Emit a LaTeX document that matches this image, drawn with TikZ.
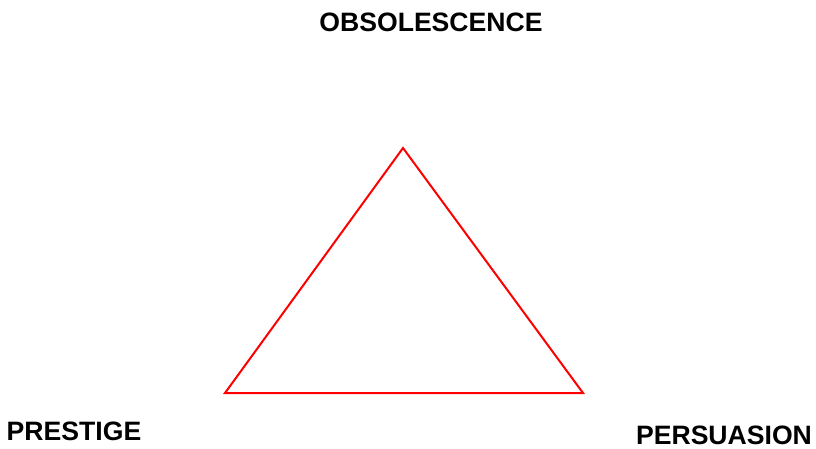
\documentclass[tikz,border=0pt]{standalone}
\usepackage{fontspec}
\setmainfont{Liberation Sans}
\begin{document}
\begin{tikzpicture}[x=1pt,y=1pt,
  lbl/.style={font=\fontsize{26.6}{30}\selectfont\bfseries, inner sep=0pt, anchor=center},
  tri/.style={draw=red, line width=2pt, line join=miter}]
\useasboundingbox (0,0) rectangle (816,448);
\coordinate (t) at (403,300);
\coordinate (bl) at (225,55);
\coordinate (br) at (583,55);
\draw[tri] (t) -- (bl) -- (br) -- cycle;
\node[lbl] (obs) at (431,426) {OBSOLESCENCE};
\node[lbl] (pre) at (74,17) {PRESTIGE};
\node[lbl] (per) at (724,13) {PERSUASION};
\end{tikzpicture}
\end{document}
